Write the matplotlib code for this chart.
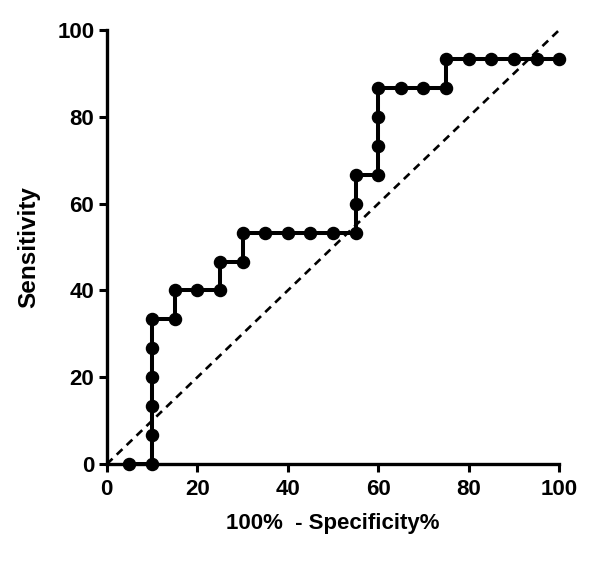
import matplotlib
matplotlib.use("Agg")
import matplotlib.pyplot as plt

# ROC points: 100% - specificity (%) vs sensitivity (%)
fpr = [5, 10, 10, 10, 10, 10, 10, 15, 15, 20, 25, 25, 30, 30, 35, 40, 45, 50,
       55, 55, 55, 60, 60, 60, 60, 65, 70, 75, 75, 80, 85, 90, 95, 100]
sens = [0, 0, 6.67, 13.33, 20, 26.67, 33.33, 33.33, 40, 40, 40, 46.67, 46.67,
        53.33, 53.33, 53.33, 53.33, 53.33, 53.33, 60, 66.67, 66.67, 73.33, 80,
        86.67, 86.67, 86.67, 86.67, 93.33, 93.33, 93.33, 93.33, 93.33, 93.33]
ref_x = [0, 100]
ref_y = [0, 100]
ticks = [0, 20, 40, 60, 80, 100]

plt.rcParams['font.family'] = ['Liberation Sans', 'DejaVu Sans']
plt.rcParams['font.weight'] = 'bold'

fig = plt.figure(figsize=(6, 5.66), dpi=100)
ax = fig.add_axes([0.178, 0.180, 0.754, 0.767])

ax.plot(ref_x, ref_y, color='black', lw=1.9, ls=(0, (3, 2.2)), clip_on=False)
ax.plot(fpr, sens, color='black', lw=2.9, marker='o', ms=8.7, clip_on=False,
        zorder=3)

ax.set_xlim(0, 100)
ax.set_ylim(0, 100)
ax.set_xticks(ticks)
ax.set_yticks(ticks)
ax.tick_params(direction='out', length=6, width=2.2, labelsize=16, pad=3)
ax.tick_params(axis='x', pad=5)
for s in ['top', 'right']:
    ax.spines[s].set_visible(False)
for s in ['left', 'bottom']:
    ax.spines[s].set_linewidth(2.4)

ax.set_xlabel("100%  - Specificity%", fontsize=16, fontweight='bold', labelpad=9)
ax.set_ylabel("Sensitivity", fontsize=17.5, fontweight='bold', labelpad=12)

fig.savefig("out.png", dpi=100)
